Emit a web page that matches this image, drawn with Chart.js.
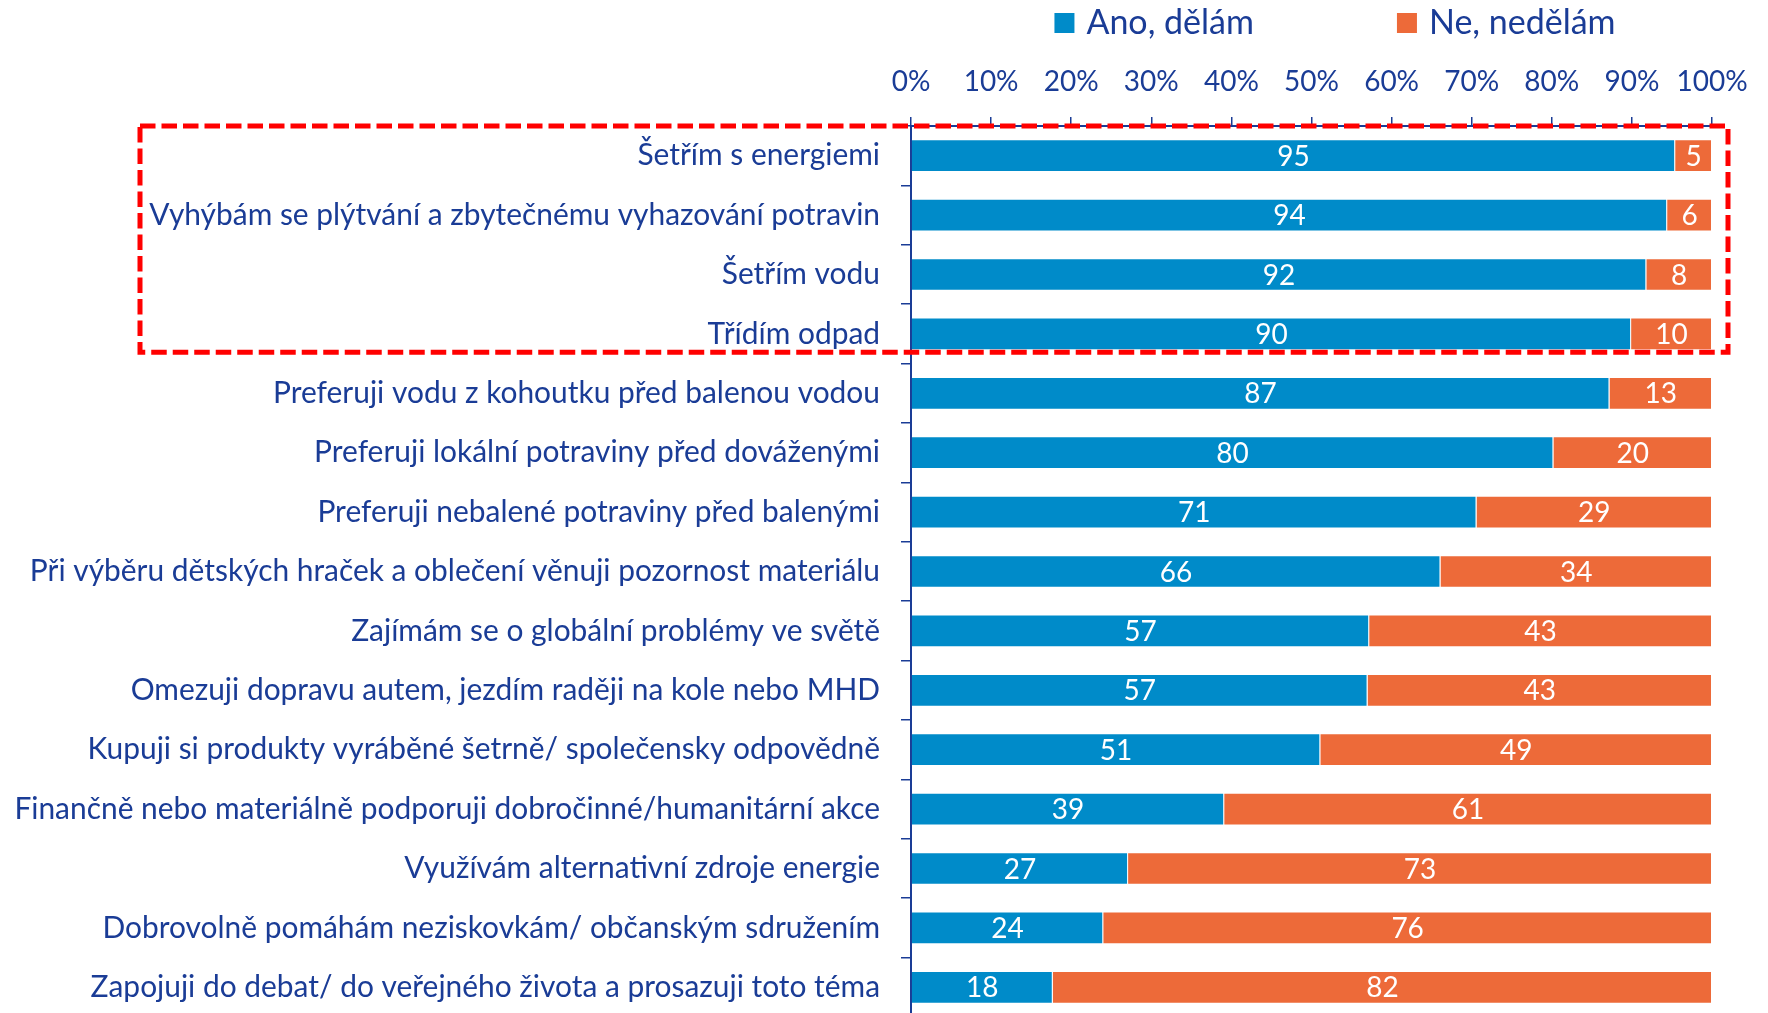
<!DOCTYPE html>
<html lang="cs">
<head>
<meta charset="utf-8">
<title>Co děláte pro životní prostředí</title>
<script src="https://cdn.jsdelivr.net/npm/chart.js@4.4.1/dist/chart.umd.min.js"></script>
<style>
  html, body { margin: 0; padding: 0; background: #fff; overflow: hidden; }
  #wrap { position: relative; width: 1768px; height: 1017px; }
</style>
</head>
<body>
<div id="wrap"><canvas id="chart"></canvas></div>
<script>
// data (values in %)
const categories = [
  "Šetřím s energiemi",
  "Vyhýbám se plýtvání a zbytečnému vyhazování potravin",
  "Šetřím vodu",
  "Třídím odpad",
  "Preferuji vodu z kohoutku před balenou vodou",
  "Preferuji lokální potraviny před dováženými",
  "Preferuji nebalené potraviny před balenými",
  "Při výběru dětských hraček a oblečení věnuji pozornost materiálu",
  "Zajímám se o globální problémy ve světě",
  "Omezuji dopravu autem, jezdím raději na kole nebo MHD",
  "Kupuji si produkty vyráběné šetrně/ společensky odpovědně",
  "Finančně nebo materiálně podporuji dobročinné/humanitární akce",
  "Využívám alternativní zdroje energie",
  "Dobrovolně pomáhám neziskovkám/ občanským sdružením",
  "Zapojuji do debat/ do veřejného života a prosazuji toto téma"
];
const anoValues = [95.4, 94.4, 91.8, 89.9, 87.2, 80.2, 70.6, 66.1, 57.2, 57.0, 51.1, 39.1, 27.1, 24.0, 17.7];
const neValues = [4.6, 5.6, 8.2, 10.1, 12.8, 19.8, 29.4, 33.9, 42.8, 43.0, 48.9, 60.9, 72.9, 76.0, 82.3];
const seriesNames = ["Ano, dělám", "Ne, nedělám"];
const xTickValues = [0, 10, 20, 30, 40, 50, 60, 70, 80, 90, 100];

const BLUE = "#008bc9";
const ORANGE = "#ed6a39";
const TEXT = "#1a3c96";
const FONT = "Lato";

// Calibri is not available -> size Lato so the longest label keeps the original width
const measureCtx = document.createElement("canvas").getContext("2d");
measureCtx.font = `100px ${FONT}`;
const longest = Math.max(...categories.map((c) => measureCtx.measureText(c).width));
const labelSize = Math.min(30, (866 / longest) * 100);
const legendSize = Math.min(34, (172 / measureCtx.measureText(seriesNames[0]).width) * 100);
const valueSize = 28;

// legend drawn by hand: wide gap between the two items
const topLegend = {
  id: "topLegend",
  afterDraw(chart) {
    const { ctx, chartArea } = chart;
    const box = 20, gap = 12, spacing = 143;
    ctx.save();
    ctx.font = `${legendSize}px ${FONT}`;
    ctx.textBaseline = "middle";
    const items = chart.data.datasets.map((ds) => ({
      text: ds.label,
      color: ds.backgroundColor,
      w: ctx.measureText(ds.label).width,
    }));
    const total = items.reduce((s, it) => s + box + gap + it.w, 0) + spacing * (items.length - 1);
    let x = chartArea.left + 424 - total / 2;
    const y = 23;
    items.forEach((it) => {
      ctx.fillStyle = it.color;
      ctx.fillRect(x, y - box / 2, box, box);
      ctx.fillStyle = TEXT;
      ctx.fillText(it.text, x + box + gap, y);
      x += box + gap + it.w + spacing;
    });
    ctx.restore();
  },
};

// white numbers in the middle of every segment
const valueLabels = {
  id: "valueLabels",
  afterDatasetsDraw(chart) {
    const { ctx } = chart;
    ctx.save();
    ctx.font = `${valueSize}px ${FONT}`;
    ctx.fillStyle = "#fff";
    ctx.textAlign = "center";
    ctx.textBaseline = "alphabetic";
    chart.data.datasets.forEach((ds, i) => {
      chart.getDatasetMeta(i).data.forEach((bar, j) => {
        const p = bar.getProps(["x", "y", "base"], true);
        ctx.fillText(Math.round(ds.data[j]), (p.x + p.base) / 2, p.y + valueSize * 0.36);
      });
    });
    ctx.restore();
  },
};

// red dashed frame round the first four rows
const highlightBox = {
  id: "highlightBox",
  afterDraw(chart) {
    const { ctx, chartArea } = chart;
    const bar = chart.getDatasetMeta(0).data[3];
    const bottom = bar.y + bar.height / 2 + 2;
    ctx.save();
    ctx.strokeStyle = "#ff0000";
    ctx.lineWidth = 5;
    ctx.setLineDash([15.5, 6]);
    ctx.strokeRect(140, chartArea.top, chartArea.right + 16 - 140, bottom - chartArea.top);
    ctx.restore();
  },
};

new Chart(document.getElementById("chart"), {
  type: "bar",
  data: {
    labels: categories,
    datasets: [
      {
        label: seriesNames[0],
        data: anoValues,
        backgroundColor: BLUE,
        borderColor: "rgba(255,255,255,0.45)",
        borderWidth: 1,
        barPercentage: 0.55,
        categoryPercentage: 1,
      },
      {
        label: seriesNames[1],
        data: neValues,
        backgroundColor: ORANGE,
        borderColor: "rgba(255,255,255,0.45)",
        borderWidth: 1,
        barPercentage: 0.55,
        categoryPercentage: 1,
      },
    ],
  },
  options: {
    indexAxis: "y",
    responsive: true,
    maintainAspectRatio: false,
    animation: false,
    layout: { padding: { top: 65, right: 56, left: 12, bottom: 0 } },
    scales: {
      x: {
        position: "top",
        stacked: true,
        min: 0,
        max: 100,
        afterBuildTicks: (axis) => {
          axis.ticks = xTickValues.map((v) => ({ value: v }));
        },
        afterFit: (axis) => {
          axis.height = 61;
        },
        ticks: {
          color: TEXT,
          font: { family: FONT, size: 28 },
          padding: 18,
          maxRotation: 0,
          callback: (v) => v + "%",
        },
        grid: { drawOnChartArea: false, tickLength: 9, color: TEXT, lineWidth: 1.5 },
        border: { color: TEXT, width: 2 },
      },
      y: {
        stacked: true,
        // long labels: let the axis be wider than half the chart, no extra room top/bottom
        afterFit: (axis) => {
          axis.width = 899;
          axis.paddingTop = 0;
          axis.paddingBottom = 0;
        },
        ticks: {
          color: TEXT,
          font: { family: FONT, size: labelSize },
          padding: 21,
          autoSkip: false,
        },
        grid: { drawOnChartArea: false, tickLength: 10, color: TEXT, lineWidth: 1.5, offset: true },
        border: { color: TEXT, width: 2 },
      },
    },
    plugins: {
      legend: { display: false },
      tooltip: { enabled: false },
    },
  },
  plugins: [topLegend, valueLabels, highlightBox],
});
</script>
</body>
</html>
